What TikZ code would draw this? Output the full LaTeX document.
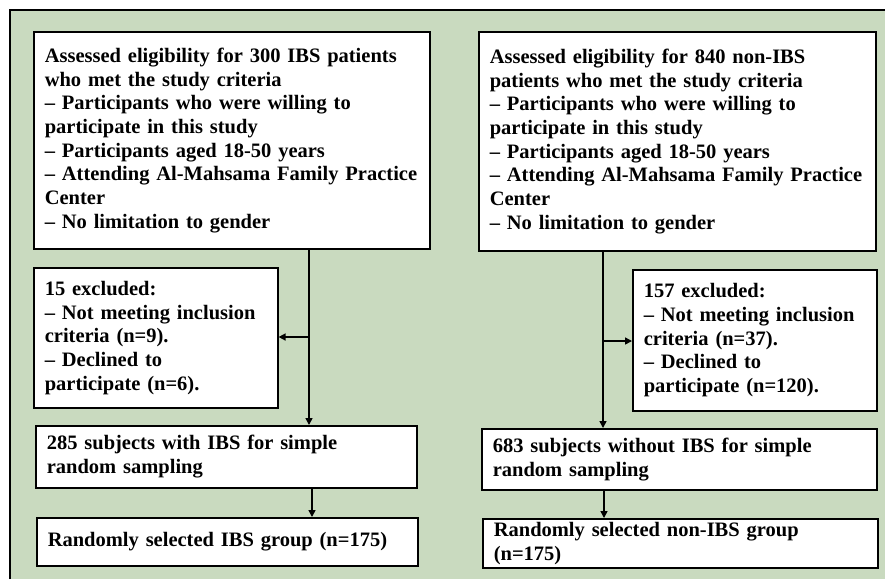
\documentclass[tikz,border=0pt]{standalone}
\usepackage{fontspec}
\setmainfont{Liberation Serif}
\usetikzlibrary{arrows.meta}
\definecolor{bg}{RGB}{201,218,191}
\begin{document}
\begin{tikzpicture}[x=1pt,y=-1pt,
  box/.style={draw=black,line width=1.6pt,fill=white,anchor=north west,
    inner xsep=11pt,inner ysep=0pt,align=left,
    font=\fontsize{20.5}{23.7}\selectfont\bfseries},
  conn/.style={line width=1.5pt},
  arr/.style={conn,-{Triangle[length=7pt,width=7pt]}}]
\useasboundingbox (0,0) rectangle (885,579);
\fill[bg] (10,10) rectangle (885,579);
\draw[line width=2.6pt] (10,579) -- (10,10) -- (885,10);

\node[box,minimum width=396pt,minimum height=217pt,text width=374pt] (L1) at (33,31)
 {Assessed eligibility for 300 IBS patients\\
  who met the study criteria\\
  – Participants who were willing to\\
  participate in this study\\
  – Participants aged 18-50 years\\
  – Attending Al-Mahsama Family Practice\\
  Center\\
  – No limitation to gender};
\node[box,minimum width=244pt,minimum height=140pt,text width=222pt] (L2) at (33,267)
 {15 excluded:\\
  – Not meeting inclusion\\
  criteria (n=9).\\
  – Declined to\\
  participate (n=6).};
\node[box,minimum width=381pt,minimum height=62pt,text width=359pt] (L3) at (35,425)
 {285 subjects with IBS for simple\\
  random sampling};
\node[box,minimum width=381pt,minimum height=48pt,text width=359pt] (L4) at (36,517)
 {Randomly selected IBS group (n=175)};

\node[box,minimum width=397pt,minimum height=219pt,text width=375pt] (R1) at (478,31)
 {Assessed eligibility for 840 non-IBS\\
  patients who met the study criteria\\
  – Participants who were willing to\\
  participate in this study\\
  – Participants aged 18-50 years\\
  – Attending Al-Mahsama Family Practice\\
  Center\\
  – No limitation to gender};
\node[box,minimum width=244pt,minimum height=141pt,text width=222pt] (R2) at (632,269)
 {157 excluded:\\
  – Not meeting inclusion\\
  criteria (n=37).\\
  – Declined to\\
  participate (n=120).};
\node[box,minimum width=395pt,minimum height=61pt,text width=373pt] (R3) at (481,428)
 {683 subjects without IBS for simple\\
  random sampling};
\node[box,minimum width=395pt,minimum height=49pt,text width=373pt] (R4) at (482,518)
 {Randomly selected non-IBS group\\
  (n=175)};

\coordinate (xl) at (309,0);
\coordinate (jl) at (309,337);
\coordinate (xl2) at (312,0);
\coordinate (xr) at (603,0);
\coordinate (jr) at (603,341);
\coordinate (xr2) at (604,0);

\draw[arr] (L1.south -| xl) -- (L3.north -| xl);
\draw[arr] (jl) -- (L2.east |- jl);
\draw[arr] (L3.south -| xl2) -- (L4.north -| xl2);
\draw[arr] (R1.south -| xr) -- (R3.north -| xr);
\draw[arr] (jr) -- (R2.west |- jr);
\draw[arr] (R3.south -| xr2) -- (R4.north -| xr2);
\end{tikzpicture}
\end{document}
